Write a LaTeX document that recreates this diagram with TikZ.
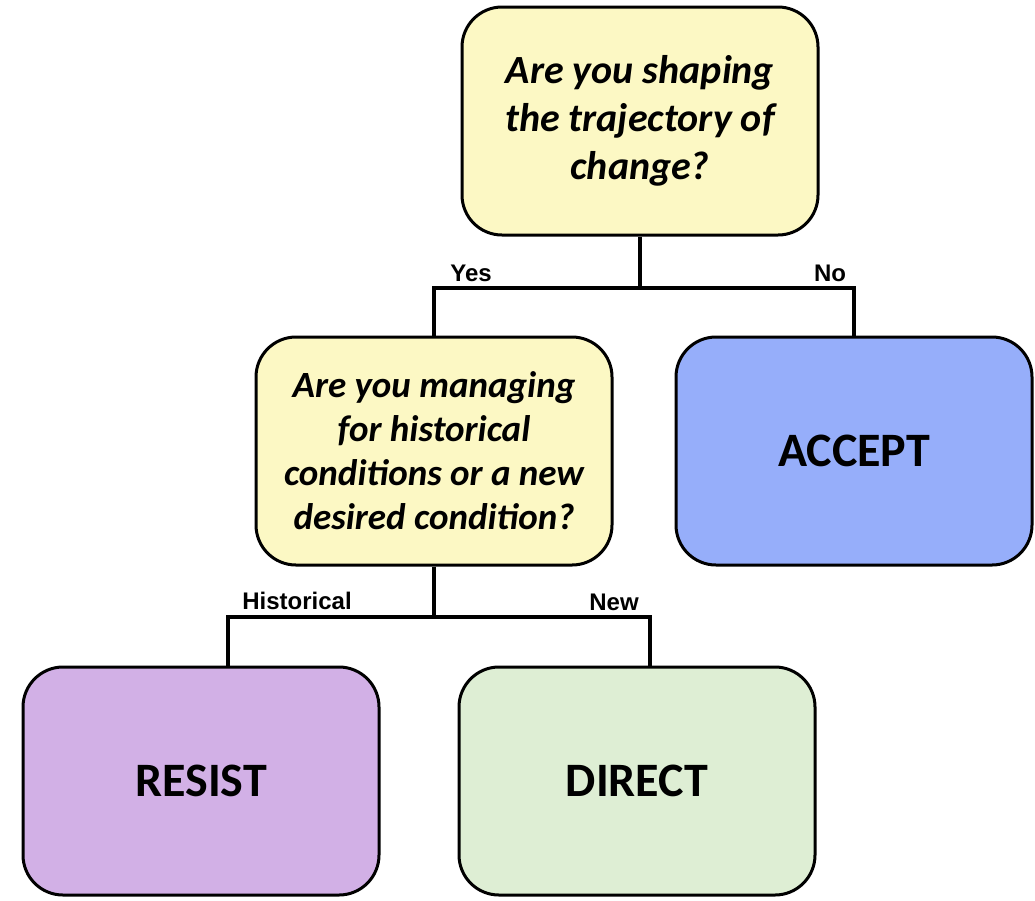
\documentclass[tikz,border=0pt]{standalone}
\usepackage{fontspec}
\setmainfont{Carlito}
\newfontfamily\lblfont{Liberation Sans}
\usetikzlibrary{positioning}

\definecolor{qyellow}{RGB}{252,248,196}
\definecolor{acblue}{RGB}{150,174,250}
\definecolor{rspurple}{RGB}{210,176,230}
\definecolor{drgreen}{RGB}{222,238,212}

\begin{document}
\begin{tikzpicture}[x = 1pt, y = -1pt,
    question/.style = {shape = rectangle, rounded corners = 40pt, draw = black, line width = 3pt, fill = qyellow, minimum width = 356pt, minimum height = 228pt, align = center, font = \bfseries\itshape},
    action/.style = {shape = rectangle, rounded corners = 40pt, draw = black, line width = 3pt, minimum width = 356pt, minimum height = 228pt, font = \fontsize{48}{52}\selectfont\bfseries},
    branch/.style = {draw = black, line width = 3.5pt},
    answer/.style = {font = \lblfont\bfseries\fontsize{24}{26}\selectfont, inner sep = 0pt},
    ]
    \useasboundingbox (0,0) rectangle (1035,900);

    \node[question, font = \bfseries\itshape\fontsize{40}{48}\selectfont] (shaping) at (640,121) {Are you shaping\\the trajectory of\\change?};
    \node[question, font = \bfseries\itshape\fontsize{37}{44}\selectfont] (managing) at (434,451) {Are you managing\\for historical\\conditions or a new\\desired condition?};
    \node[action, fill = acblue] (accept) at (854,451) {ACCEPT};
    \node[action, fill = rspurple] (resist) at (201,781) {RESIST};
    \node[action, fill = drgreen] (direct) at (637,781) {DIRECT};

    \coordinate (split1) at (640,288);
    \coordinate (split2) at (434,617);

    \draw[branch] (shaping.south) -- (split1);
    \draw[branch] (managing.north) |- (split1) -| (accept.north);
    \draw[branch] (managing.south) -- (split2);
    \draw[branch] ([xshift = 27pt]resist.north) |- (split2) -| ([xshift = 13pt]direct.north);

    \node[answer] (yes) at (471,273) {Yes};
    \node[answer] (no) at (830,273) {No};
    \node[answer] (hist) at (297,601) {Historical};
    \node[answer] (new) at (614,602) {New};
\end{tikzpicture}
\end{document}
